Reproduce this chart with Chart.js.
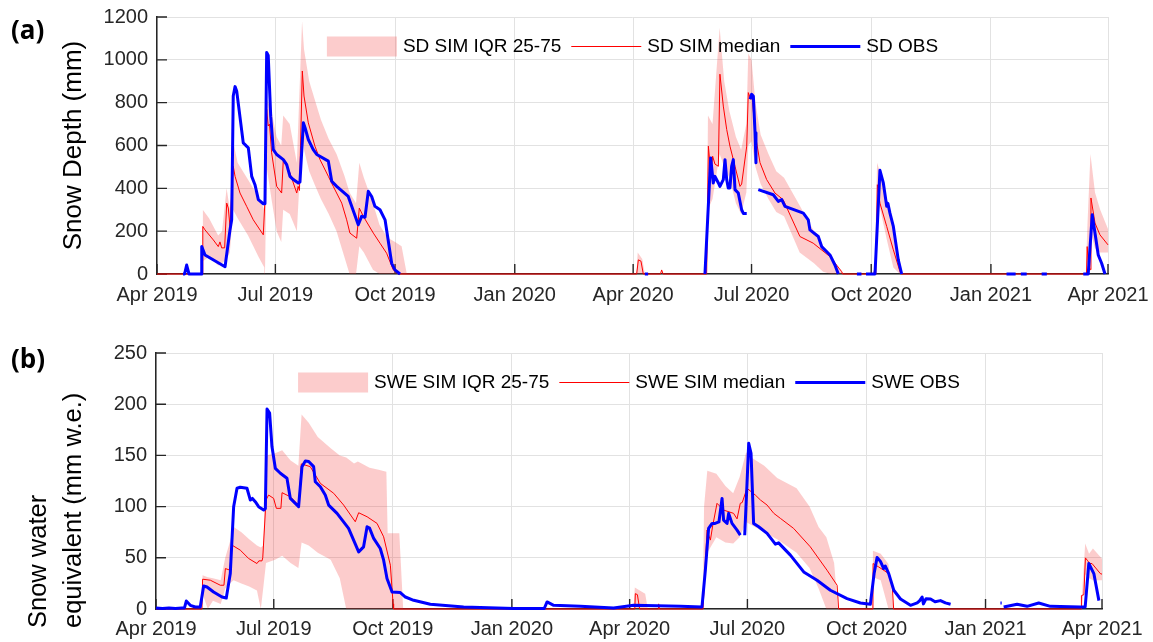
<!DOCTYPE html>
<html>
<head>
<meta charset="utf-8">
<script src="https://cdn.jsdelivr.net/npm/chart.js@4.4.0/dist/chart.umd.min.js"></script>
<style>
  body { margin: 0; background: #fff; }
  #wrap { position: relative; width: 1153px; height: 642px; }
  canvas { position: absolute; left: 0; }
  .tag { position: absolute; font: bold 26px "Open Sans", sans-serif; line-height: 1; color: #000; }
</style>
</head>
<body>
<div id="wrap">
  <canvas id="sd" width="1153" height="321" style="top:0"></canvas>
  <canvas id="swe" width="1153" height="321" style="top:321px"></canvas>
  <div class="tag" style="left:11px;top:16px">(a)</div>
  <div class="tag" style="left:11px;top:345px">(b)</div>
</div>
<script>
// x axis: days since 1 Apr 2019
const tickDays = [0, 91, 183, 275, 366, 457, 549, 641, 731];
const tickLabels = ['Apr 2019', 'Jul 2019', 'Oct 2019', 'Jan 2020', 'Apr 2020', 'Jul 2020', 'Oct 2020', 'Jan 2021', 'Apr 2021'];

// (a) snow depth, mm
const sdObsDays = [
  20, 21.2, 22.8, 24.6, 34.0, 34.4, 36.9, 52.3, 56.1, 57.4, 58.6, 60.0, 61.3,
  66.3, 70.2, 72.8, 75.3, 77.9, 81.7, 83.0, 84.3, 85.5, 87.4, 89.4, 92.0,
  97.1, 99.7, 102.2, 104.8, 108.6, 109.9, 112.5, 113.8, 116.3, 120.1, 122.8,
  131.7, 134.3, 138.1, 147.0, 154.7, 157.3, 159.9, 162.4, 165.0, 167.5, 171.4,
  175.3, 180.4, 182.9, 186.8, 187.5,
  375, 377.5, 378,
  421.2, 425.6, 427.6, 428.9, 431.5, 432.7, 435.3, 436.6, 437.9, 439.1, 440.4, 441.7, 443.0, 444.3, 446.8, 449.4, 450.7, 453.3, 454.5,
  455.9, 457.1, 458.4, 459.7, 460.4, 461.3,
  462.2, 473.7, 477.6, 480.2, 482.7, 496.8, 500.6, 501.9, 508.3, 510.9, 517.3, 521.1, 523.7, 524,
  538, 541.5, 542, 545, 551.9, 555.7, 558.3, 560.9, 561.8, 563.4, 566.0, 569.8, 572.4, 573,
  653, 660, 661, 664, 668.5, 669, 680, 684, 685,
  712, 715.8, 718.9, 721.0, 723.5, 726.1, 728.7
];
const sdObs = [
  0, 0, 42, 0, 0, 128, 89, 34, 206, 253, 831, 875, 853,
  612, 589, 456, 417, 347, 328, 328, 1034, 1020, 737, 581, 558,
  534, 511, 456, 441, 425, 430, 706, 683, 628, 581, 558,
  527, 433, 409, 362, 230, 269, 265, 386, 362, 316, 300,
  253, 50, 19, 0, null,
  0, 0, null,
  0, 542, 425, 456, 425, 409, 441, 534, 441, 402, 402, 503, 534, 394, 378, 300, 283, 283, null,
  816, 839, 830, 659, 519, null,
  394, 370, 339, 347, 316, 284, 253, 206, 175, 128, 89, 42, 0, null,
  0, 0, null, 0, 0, 484, 425, 316, 330, 284, 222, 66, 0, null,
  0, 0, null, 0, 0, null, 0, 0, null,
  0, 0, 277, 191, 89, 50, 0
];
const sdMedDays = [
  0, 35.0, 35.2, 36.9, 43.3, 47.1, 48.4, 49.7, 52.0, 53.6,
  54.8, 56.1, 58.6, 60.0, 63.8, 68.9, 74.0, 81.7, 83.0, 84.3,
  85.5, 86.5, 88.1, 92.0, 95.8, 97.1, 102.2, 107.4, 108.5, 109.5,
  111.7, 113.0, 116.3, 121.4, 125.3, 131.7, 135.5, 142.0, 145.8, 148.3,
  153.5, 155.5, 158.6, 166.3, 171.4, 176.5, 181.6, 185.5,
  368.7, 370.0, 372.0, 373.8, 387.0, 387.9, 389.0, 422.5, 423.8, 425.8,
  427.1, 428.9, 431.5, 432.7, 435.3, 437.9, 440.4, 444.3, 448.1, 449.4,
  453.3, 454.5, 456.4, 457.5, 459.7, 463.5, 468.6, 475.0, 481.3, 494.2,
  504.4, 517.3, 526.3, 527.0, 551.0, 551.9, 552.5, 553.7, 555.7, 560.9,
  566.0, 571.1, 572.0, 714.5, 715.0, 716.0, 717.5, 717.9, 721.0, 724.8, 731
];
const sdMed = [
  0, 0, 222, 206, 159, 128, 150, 122, 122, 331,
  308, 222, 503, 456, 378, 316, 253, 183, 347, 769,
  691, 700, 566, 409, 378, 534, 472, 378, 409, 390,
  948, 831, 706, 597, 534, 456, 409, 331, 253, 191,
  167, 308, 269, 191, 144, 97, 19, 0,
  0, 66, 60, 0, 0, 19, 0, 0, 597, 464,
  550, 513, 503, 933, 784, 675, 597, 503, 409, 420,
  597, 847, 816, 830, 659, 520, 441, 378, 347, 175,
  144, 81, 11, 0, 0, 34, 0, 417, 331, 222,
  113, 11, 0, 0, 128, 40, 20, 355, 238, 183, 136
];
const sdBandDays = [
  35.0, 35.2, 40, 47, 50, 53.5, 56, 58.5, 62, 70,
  78, 82.5, 83, 84.3, 88, 92, 95.5, 97, 102, 107.5,
  111.5, 113, 117, 121, 126, 132, 138, 144, 148, 153,
  155.5, 159, 166, 171, 177, 183, 188, 192,
  368.5, 369.5, 373, 375, 422.5, 423.5, 427, 432.5, 436, 440,
  445, 449, 453, 454.5, 457, 460, 464, 470, 476, 482,
  494, 505, 512, 518, 524, 528, 551.5, 552, 553.5, 556,
  561, 566, 571, 573, 714, 715, 717.5, 721, 725, 731
];
const sdBandLo = [
  0, 60, 80, 40, 50, 70, 100, 300, 260, 180,
  80, 30, 0, 500, 350, 200, 150, 300, 280, 200,
  650, 580, 480, 420, 350, 280, 200, 80, 0, 0,
  130, 100, 20, 0, 0, 0, 0, 0,
  0, 0, 0, 0, 0, 300, 350, 560, 500, 450,
  330, 280, 380, 600, 620, 500, 420, 350, 290, 270,
  100, 50, 10, 0, 0, 0, 0, 0, 350, 300,
  160, 30, 0, 0, 0, 0, 200, 120, 100, 100
];
const sdBandHi = [
  0, 300, 260, 180, 200, 400, 300, 620, 520, 440,
  360, 300, 300, 820, 760, 640, 600, 740, 700, 520,
  1180, 1050, 900, 820, 720, 630, 560, 460, 380, 330,
  520, 450, 330, 230, 170, 150, 130, 0,
  0, 100, 70, 0, 0, 740, 700, 1150, 900, 760,
  640, 580, 700, 1030, 1000, 800, 650, 560, 480, 450,
  320, 200, 130, 80, 30, 0, 0, 100, 520, 470,
  350, 200, 60, 0, 0, 200, 560, 380, 300, 210
];

// (b) snow water equivalent, mm w.e.
const sweObsDays = [
  0, 5, 10, 15, 20, 22, 23.4, 26.5, 30.4, 34.2,
  36.8, 39.4, 44.5, 51.0, 54.3, 57.4, 60.0, 62.6, 65.1, 70.3,
  72.9, 74.5, 76.7, 79.3, 83.2, 84.5, 85.8, 87.8, 89.6, 92.2,
  96.1, 101.2, 103.8, 110.2, 112.8, 115.4, 118.0, 121.8, 123.1, 127.0,
  130.8, 133.4, 139.9, 148.8, 156.6, 160.4, 163.1, 165.0, 168.2, 173.3,
  175.9, 178.5, 182.4, 188.8, 192.7, 199.1, 212.0, 237.7, 276.4, 300.0,
  302.2, 307.3, 327.9, 353.6, 369.1, 405.2, 421.9, 424.5, 427.0, 429.7,
  432.0, 435.0, 437.4, 438.6, 441.3, 442.5, 445.1, 449.0, 451.5, 453,
  454.9, 456.7, 458.0, 459.8, 461.8, 465.7, 472.2, 478.6, 481.1, 490.2,
  500.5, 510.8, 521.1, 534.0, 544.3, 552.0, 554.9, 557.2, 559.8, 562.3,
  563.5, 566.2, 570.1, 575.3, 583.0, 588.2, 590.0, 592.0, 593.0, 595.0,
  598.5, 602.0, 606.2, 610.0, 614.0, 615, 652.5, 653.5, 654, 655,
  665.4, 673.1, 682.1, 691.1, 714.3, 718.0, 720.8, 724.7, 728.6
];
const sweObs = [
  1, 0.5, 1, 0.5, 1, 1, 7.8, 3.6, 2, 2,
  22.5, 21.5, 16.6, 11.7, 10.7, 34.6, 99.9, 117.9, 118.9, 117.9,
  106.4, 108, 104.8, 99.9, 96.6, 98, 195.2, 191.3, 158.6, 137.4,
  132.6, 127.7, 108, 99.9, 139, 144.6, 144, 139, 124.3, 119.4,
  111.3, 101.5, 93.4, 78.7, 55.8, 60.7, 80.3, 79, 68.9, 59.1,
  47.7, 29.8, 16.6, 16, 11.7, 8.5, 4.6, 2, 0.5, 0.5,
  6.9, 3.6, 2.6, 1, 3.6, 2.6, 2, 37.9, 78.7, 83.6,
  83.6, 85, 108, 86.8, 83.6, 93.4, 83.6, 77, 72.1, null,
  72, 122.7, 161.9, 152, 83.6, 80.3, 73.8, 63.3, 64.6, 52.6,
  36.2, 28.1, 18.3, 10.2, 5.9, 4.6, 34.6, 50.3, 46.5, 39.5,
  42, 34.6, 18.3, 9.8, 3.6, 5.9, 8, 11.7, 5, 10,
  9.8, 7, 8.2, 6, 4.6, null, 5.9, 5.9, null, 2,
  4.6, 2.6, 5.9, 2.6, 2, 2, 44.4, 34.6, 8.2
];
const sweMedDays = [
  0, 35.5, 36.0, 42.0, 49.7, 52.5, 53.6, 57.0, 58.7, 65.1,
  71.6, 78.0, 79.5, 81.9, 82.5, 85.0, 87.0, 90.9, 93.0, 96.5,
  97.4, 103.8, 110.2, 112.3, 119.2, 127.0, 137.3, 145.0, 154.0, 156.6,
  163.1, 170.8, 175.9, 181.1, 183.2, 183.6, 370.0, 370.4, 372.0, 373.7,
  388.0, 388.4, 389.0, 422.7, 425.8, 428.4, 430.0, 433.5, 438.6, 446.3,
  449.0, 451.5, 453.0, 456.7, 463.1, 467.1, 472.2, 477.4, 482.5, 492.7,
  505.6, 518.5, 526.3, 527.5, 554.0, 554.1, 558.4, 566.2, 568.8, 570.0,
  715.0, 715.1, 717.0, 718.2, 720.0, 721.5, 723.3, 729.7, 731
];
const sweMed = [
  0, 0, 29.1, 28.1, 23.2, 23.2, 39.5, 38, 62.4, 57.5,
  49.3, 44.4, 47, 47, 50, 106.4, 111.3, 108, 98.3, 98.3,
  113.6, 109.6, 101.5, 141.7, 139, 122.7, 113, 101.5, 85.2, 94,
  90.1, 83.6, 70.5, 42.8, 5, 0, 0, 15, 14, 0,
  0, 5, 0, 0, 77, 67.3, 80, 103.2, 96.6, 93.4,
  88, 103.2, 104, 117.9, 111.3, 106.4, 101.5, 93.4, 88.5, 78.7,
  60.7, 37.9, 23.2, 0, 0, 44.4, 41.1, 34.6, 24.8, 0,
  0, 13.1, 14, 49.9, 47, 44.4, 44.4, 34.6, 34
];
const sweBandDays = [
  35.5, 36, 40, 44, 50, 53.5, 57, 60, 66, 72,
  78, 81, 83, 85, 92, 97.5, 104, 110, 112.5, 118,
  125, 135, 142, 147, 153, 156, 165, 172, 178, 179,
  188, 191, 369, 370, 378, 380, 422.5, 423.5, 426, 433,
  440, 446, 451, 456, 460, 470, 480, 495, 505, 512,
  518, 524, 527, 553.5, 554, 560, 566, 570, 715, 715.5,
  718, 721, 724, 731
];
const sweBandLo = [
  0, 15, 0, 8, 5, 20, 25, 28, 25, 22,
  18, 0, 22, 45, 48, 52, 45, 40, 65, 62,
  55, 48, 30, 0, 0, 0, 0, 0, 0, 0,
  0, 0, 0, 0, 0, 0, 0, 40, 55, 70,
  65, 64, 70, 85, 82, 75, 68, 55, 40, 20,
  0, 0, 0, 0, 31, 28, 0, 0, 0, 0,
  34, 30, 28, 28
];
const sweBandHi = [
  0, 33, 31, 30, 28, 50, 65, 80, 75, 68,
  62, 60, 62, 150, 152, 155, 145, 140, 190, 182,
  168, 157, 150, 148, 142, 144, 138, 136, 134, 74,
  74, 0, 0, 21, 15, 0, 0, 100, 135, 132,
  120, 113, 129, 153, 148, 140, 128, 118, 100, 80,
  70, 45, 0, 0, 57, 54, 44, 0, 0, 13,
  64, 54, 59, 49
];

Chart.defaults.font.family = '"Liberation Sans", Arial, sans-serif';
const axisColor = '#262626';
const gridColor = '#e2e2e2';
const bandColor = 'rgba(245, 50, 50, 0.25)';

const pts = (days, vals) => days.map((d, i) => ({ x: d, y: vals[i] }));

// legend drawn inside the plot box, centred near the top
const insideLegend = {
  id: 'insideLegend',
  afterDatasetsDraw(chart, args, opts) {
    const ctx = chart.ctx, a = chart.chartArea;
    const items = chart.data.datasets.filter(d => d.label);
    ctx.save();
    ctx.font = '19px "Liberation Sans", Arial, sans-serif';
    const sw = 70, gap = 6, sep = 10;
    const widths = items.map(d => ctx.measureText(d.label).width);
    const total = widths.reduce((s, w) => s + sw + gap + w, 0) + sep * (items.length - 1);
    let x = (a.left + a.right) / 2 - total / 2;
    const y = Math.round(a.top + opts.offset) + 0.5;
    items.forEach((d, i) => {
      if (d.fill) {
        ctx.fillStyle = d.backgroundColor;
        ctx.fillRect(x, y - 10, sw, 20);
      } else {
        ctx.strokeStyle = d.borderColor;
        ctx.lineWidth = d.borderWidth;
        ctx.beginPath();
        ctx.moveTo(x, y);
        ctx.lineTo(x + sw, y);
        ctx.stroke();
      }
      ctx.fillStyle = '#000';
      ctx.textBaseline = 'middle';
      ctx.fillText(d.label, x + sw + gap, y);
      x += sw + gap + widths[i] + sep;
    });
    ctx.restore();
  }
};

// MATLAB-style tick marks pointing into the plot
const innerTicks = {
  id: 'innerTicks',
  beforeDatasetsDraw(chart) {
    const { ctx, chartArea: a, scales: { x, y } } = chart;
    ctx.save();
    ctx.strokeStyle = axisColor;
    ctx.lineWidth = 1.4;
    ctx.beginPath();
    x.ticks.forEach(t => {
      const px = x.getPixelForValue(t.value);
      ctx.moveTo(px, a.bottom);
      ctx.lineTo(px, a.bottom - 10);
    });
    y.ticks.forEach(t => {
      const py = y.getPixelForValue(t.value);
      ctx.moveTo(a.left, py);
      ctx.lineTo(a.left + 10, py);
    });
    ctx.stroke();
    ctx.restore();
  }
};

// y title in lines, start-aligned from a fixed bottom point
const sideTitle = {
  id: 'sideTitle',
  afterDraw(chart, args, opts) {
    if (!opts.lines) return;
    const ctx = chart.ctx;
    ctx.save();
    ctx.font = opts.size + 'px "Liberation Sans", Arial, sans-serif';
    ctx.fillStyle = '#000';
    ctx.textBaseline = 'middle';
    ctx.textAlign = 'left';
    opts.lines.forEach((t, i) => {
      ctx.save();
      ctx.translate(opts.xs[i], opts.yStart);
      ctx.rotate(-Math.PI / 2);
      ctx.fillText(t, 0, 0);
      ctx.restore();
    });
    ctx.restore();
  }
};

function snowChart(id, o) {
  return new Chart(document.getElementById(id), {
    type: 'line',
    data: {
      datasets: [
        { label: o.names[0], data: pts(o.bandDays, o.bandHi), fill: '+1', backgroundColor: bandColor,
          borderColor: 'rgba(0,0,0,0)', borderWidth: 0, pointRadius: 0, order: 2 },
        { label: '', data: pts(o.bandDays, o.bandLo), fill: false,
          borderColor: 'rgba(0,0,0,0)', borderWidth: 0, pointRadius: 0, order: 3 },
        { label: o.names[1], data: pts(o.medDays, o.med), fill: false, borderColor: '#ff0000',
          borderWidth: 1, pointRadius: 0, order: 1, clip: 5 },
        { label: o.names[2], data: pts(o.obsDays, o.obs), fill: false, borderColor: '#0000ff',
          borderWidth: 3, pointRadius: 0, order: 0, clip: 5, borderJoinStyle: 'round' }
      ]
    },
    options: {
      responsive: false,
      animation: false,
      events: [],
      layout: { padding: o.pad },
      plugins: {
        legend: { display: false },
        tooltip: { enabled: false },
        insideLegend: { offset: 28.5 },
        sideTitle: o.side || {}
      },
      scales: {
        x: {
          type: 'linear', min: 0, max: 731,
          afterBuildTicks: s => { s.ticks = tickDays.map(v => ({ value: v })); },
          ticks: { callback: v => tickLabels[tickDays.indexOf(v)], font: { size: 20 }, color: axisColor,
                   padding: o.xpad, maxRotation: 0, autoSkip: false },
          grid: { color: gridColor, drawTicks: false },
          border: { color: axisColor, width: 1.5 },
          afterFit: s => { s.height = o.xh; s.paddingLeft = 0; s.paddingRight = 0; }
        },
        y: {
          min: 0, max: o.ymax,
          ticks: { stepSize: o.step, font: { size: 20 }, color: axisColor, padding: 9,
                   callback: v => String(v) },
          grid: { color: gridColor, drawTicks: false },
          border: { color: axisColor, width: 1.5 },
          title: { display: !!o.ytitle, text: o.ytitle, color: '#000',
                   font: { size: 26 }, padding: { top: 58, bottom: 0 } },
          afterFit: s => { s.width = o.yw; s.paddingTop = 0; s.paddingBottom = 0; }
        }
      }
    },
    plugins: [innerTicks, insideLegend, sideTitle]
  });
}

snowChart('sd', {
  names: ['SD SIM IQR 25-75', 'SD SIM median', 'SD OBS'],
  bandDays: sdBandDays, bandLo: sdBandLo, bandHi: sdBandHi,
  medDays: sdMedDays, med: sdMed, obsDays: sdObsDays, obs: sdObs,
  ymax: 1200, step: 200, ytitle: 'Snow Depth (mm)',
  pad: { left: 0, right: 45, top: 17, bottom: 0 }, yw: 157, xh: 47, xpad: 9
});

snowChart('swe', {
  names: ['SWE SIM IQR 25-75', 'SWE SIM median', 'SWE OBS'],
  bandDays: sweBandDays, bandLo: sweBandLo, bandHi: sweBandHi,
  medDays: sweMedDays, med: sweMed, obsDays: sweObsDays, obs: sweObs,
  ymax: 250, step: 50, ytitle: '',
  side: { lines: ['Snow water', 'equivalent (mm w.e.)'], xs: [39, 74], yStart: 307, size: 25.5 },
  pad: { left: 0, right: 51, top: 32, bottom: 0 }, yw: 156, xh: 33, xpad: 8
});
</script>
</body>
</html>
